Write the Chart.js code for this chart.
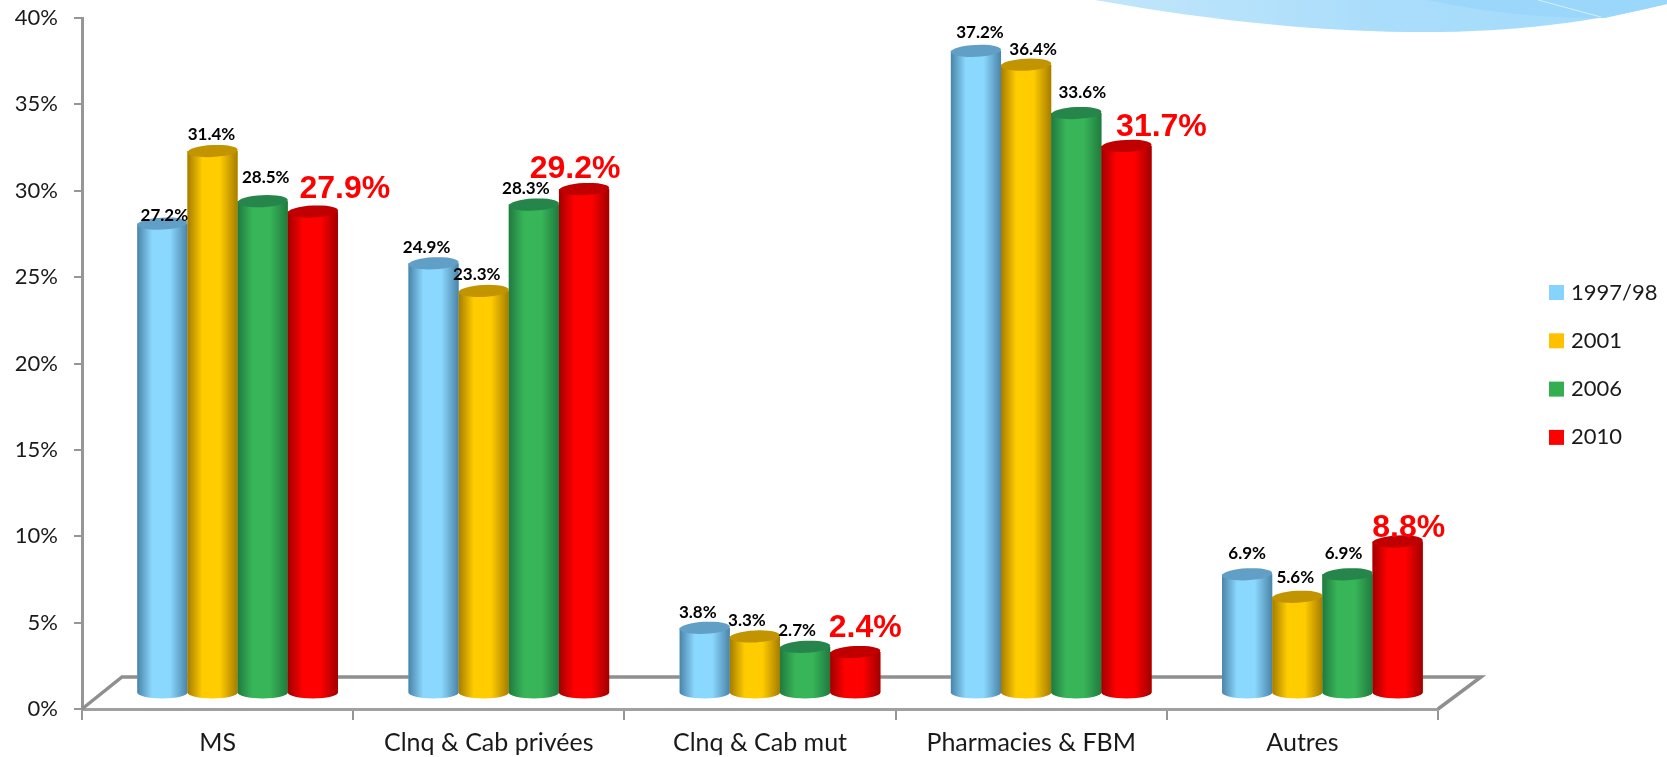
<!DOCTYPE html>
<html lang="fr">
<head>
    <meta charset="UTF-8">
    <title>Répartition par secteur</title>
    <script src="https://cdn.jsdelivr.net/npm/chart.js"></script>
    <style>
        body {
            margin: 0;
            background-color: #fff;
        }
        canvas {
            display: block;
        }
    </style>
</head>
<body>
    <canvas id="secteurChart" width="1667" height="757"></canvas>

    <script>
        const categories = ['MS', 'Clnq & Cab privées', 'Clnq & Cab mut', 'Pharmacies & FBM', 'Autres'];
        const annees = ['1997/98', '2001', '2006', '2010'];

        const valeurs1997 = [27.2, 24.9, 3.8, 37.2, 6.9];
        const valeurs2001 = [31.4, 23.3, 3.3, 36.4, 5.6];
        const valeurs2006 = [28.5, 28.3, 2.7, 33.6, 6.9];
        const valeurs2010 = [27.9, 29.2, 2.4, 31.7, 8.8];

        const couleurs = ['#87d3ff', '#ffc000', '#33ae50', '#ff0000'];
        const couleursCorps = ['#8bd8ff', '#ffcc00', '#38b558', '#ff0000'];
        const couleursBord = ['#4a84a8', '#a67c00', '#1f7a40', '#a00000'];
        const couleursDessus = ['#619fc6', '#c29400', '#25854a', '#c00000'];

        const series = [valeurs1997, valeurs2001, valeurs2006, valeurs2010];

        // Décalage du dessin 3D par rapport aux axes
        const decalageX = 20;
        const decalageY = -15.5;
        const rayonEllipse = 6;
        const inclinaison = -0.05;

        // Ajustement manuel des étiquettes [dx, dy], par année puis par catégorie
        const ajustements = [
            [[2, -8.5], [-7, -15.5], [-7, -15.5], [4, -18.5], [0, -20.5]],
            [[-1, -16.5], [-7, -16.5], [-8, -15.5], [7, -15.5], [-2, -19.5]],
            [[3, -23.5], [-8, -16.5], [-8, -16.5], [6, -20.5], [-4, -20.5]],
            [[32, -22], [-9, -20], [10, -24], [35, -19], [11, -13]]
        ];

        function dessinerCylindre(ctx, bar, indexSerie) {
            const rx = bar.width / 2;
            const gauche = bar.x - rx;
            const droite = bar.x + rx;

            const degrade = ctx.createLinearGradient(gauche, 0, droite, 0);
            degrade.addColorStop(0, couleursBord[indexSerie]);
            degrade.addColorStop(0.3, couleursCorps[indexSerie]);
            degrade.addColorStop(0.65, couleursCorps[indexSerie]);
            degrade.addColorStop(1, couleursBord[indexSerie]);

            ctx.beginPath();
            ctx.moveTo(gauche, bar.y);
            ctx.lineTo(gauche, bar.base);
            ctx.ellipse(bar.x, bar.base, rx, rayonEllipse, 0, Math.PI, 0, true);
            ctx.lineTo(droite, bar.y);
            ctx.closePath();
            ctx.fillStyle = degrade;
            ctx.fill();

            ctx.beginPath();
            ctx.ellipse(bar.x, bar.y, rx, rayonEllipse, inclinaison, 0, Math.PI * 2);
            ctx.fillStyle = couleursDessus[indexSerie];
            ctx.fill();
        }

        // Vague bleue dans le coin supérieur droit
        const pluginVague = {
            id: 'vague',
            beforeDraw(chart) {
                const ctx = chart.ctx;
                ctx.save();
                ctx.beginPath();
                ctx.moveTo(1095, 0);
                ctx.bezierCurveTo(1230, 24, 1340, 33, 1440, 32);
                ctx.bezierCurveTo(1530, 31, 1610, 18, 1667, 4);
                ctx.lineTo(1667, 0);
                ctx.closePath();
                const fond = ctx.createLinearGradient(1095, 0, 1667, 0);
                fond.addColorStop(0, '#c2e6fb');
                fond.addColorStop(0.5, '#aaddfb');
                fond.addColorStop(1, '#a2dafb');
                ctx.fillStyle = fond;
                ctx.fill();

                ctx.beginPath();
                ctx.moveTo(1428, 0);
                ctx.bezierCurveTo(1480, 12, 1550, 19, 1605, 18);
                ctx.lineTo(1667, 4);
                ctx.lineTo(1667, 0);
                ctx.closePath();
                ctx.fillStyle = '#9ad7fb';
                ctx.fill();

                ctx.beginPath();
                ctx.moveTo(1538, 0);
                ctx.lineTo(1601, 17);
                ctx.strokeStyle = 'rgba(255,255,255,0.6)';
                ctx.lineWidth = 1;
                ctx.stroke();
                ctx.restore();
            }
        };

        // Plancher en perspective, barres cylindriques et étiquettes
        const pluginCylindres = {
            id: 'cylindres',
            beforeDatasetsDraw(chart) {
                const ctx = chart.ctx;
                const zone = chart.chartArea;
                ctx.save();
                ctx.beginPath();
                ctx.moveTo(zone.left, zone.bottom);
                ctx.lineTo(zone.left + 40, zone.bottom - 32);
                ctx.lineTo(zone.right + 43, zone.bottom - 32);
                ctx.lineTo(zone.right, zone.bottom);
                ctx.strokeStyle = '#8f8f8f';
                ctx.lineWidth = 3.5;
                ctx.stroke();
                ctx.restore();

                ctx.save();
                ctx.translate(decalageX, decalageY);
            },
            afterDatasetsDraw(chart) {
                const ctx = chart.ctx;
                // Chaque année recouvre la précédente, de gauche à droite
                series.forEach((valeurs, i) => {
                    chart.getDatasetMeta(i).data.forEach(element => {
                        dessinerCylindre(ctx, element.getProps(['x', 'y', 'base', 'width'], true), i);
                    });
                });

                ctx.textAlign = 'center';
                ctx.textBaseline = 'middle';
                series.forEach((valeurs, i) => {
                    const derniere = i === series.length - 1;
                    ctx.font = derniere ? 'bold 32px "Liberation Sans"' : 'bold 17px Lato';
                    ctx.fillStyle = derniere ? '#ff0000' : '#000';
                    chart.getDatasetMeta(i).data.forEach((element, j) => {
                        const bar = element.getProps(['x', 'y'], true);
                        const [dx, dy] = ajustements[i][j];
                        ctx.fillText(valeurs[j].toFixed(1) + '%', bar.x + dx, bar.y + dy);
                    });
                });
                ctx.restore();
            },
            afterDraw(chart) {
                // Légende placée à droite, loin de la zone de tracé
                const ctx = chart.ctx;
                ctx.save();
                ctx.font = '22px Lato';
                ctx.textBaseline = 'middle';
                annees.forEach((annee, i) => {
                    const y = 292.5 + i * 48.3;
                    ctx.fillStyle = couleurs[i];
                    ctx.fillRect(1549, y - 7.5, 15, 15);
                    ctx.fillStyle = '#1a1a1a';
                    ctx.fillText(annee, 1571, y);
                });
                ctx.restore();
            }
        };

        new Chart(document.getElementById('secteurChart').getContext('2d'), {
            type: 'bar',
            data: {
                labels: categories,
                datasets: series.map((valeurs, i) => ({
                    label: annees[i],
                    data: valeurs,
                    backgroundColor: couleurs[i],
                    borderWidth: 0,
                    categoryPercentage: 0.74,
                    barPercentage: 1
                }))
            },
            options: {
                responsive: false,
                animation: false,
                layout: {
                    padding: { top: 18, right: 229, left: 0, bottom: 0 }
                },
                plugins: {
                    legend: { display: false },
                    tooltip: { enabled: false }
                },
                scales: {
                    x: {
                        afterFit(scale) { scale.height = 48; },
                        border: { color: '#a0a0a0', width: 3 },
                        grid: {
                            drawOnChartArea: false,
                            color: '#969696',
                            lineWidth: 2,
                            tickLength: 11
                        },
                        ticks: {
                            color: '#1a1a1a',
                            padding: 8,
                            maxRotation: 0,
                            font: { family: 'Lato', size: 25 }
                        }
                    },
                    y: {
                        min: 0,
                        max: 40,
                        afterFit(scale) {
                            scale.width = 82;
                            // La demi-hauteur du libellé 40% ne doit pas réduire la zone de tracé
                            scale.paddingTop = 0;
                            scale.paddingBottom = 0;
                        },
                        border: { color: '#969696', width: 3 },
                        grid: {
                            drawOnChartArea: false,
                            color: '#969696',
                            lineWidth: 2,
                            tickLength: 8
                        },
                        ticks: {
                            stepSize: 5,
                            color: '#1a1a1a',
                            padding: 16,
                            font: { family: 'Lato', size: 22 },
                            callback: value => value + '%'
                        }
                    }
                }
            },
            plugins: [pluginVague, pluginCylindres]
        });
    </script>
</body>
</html>
